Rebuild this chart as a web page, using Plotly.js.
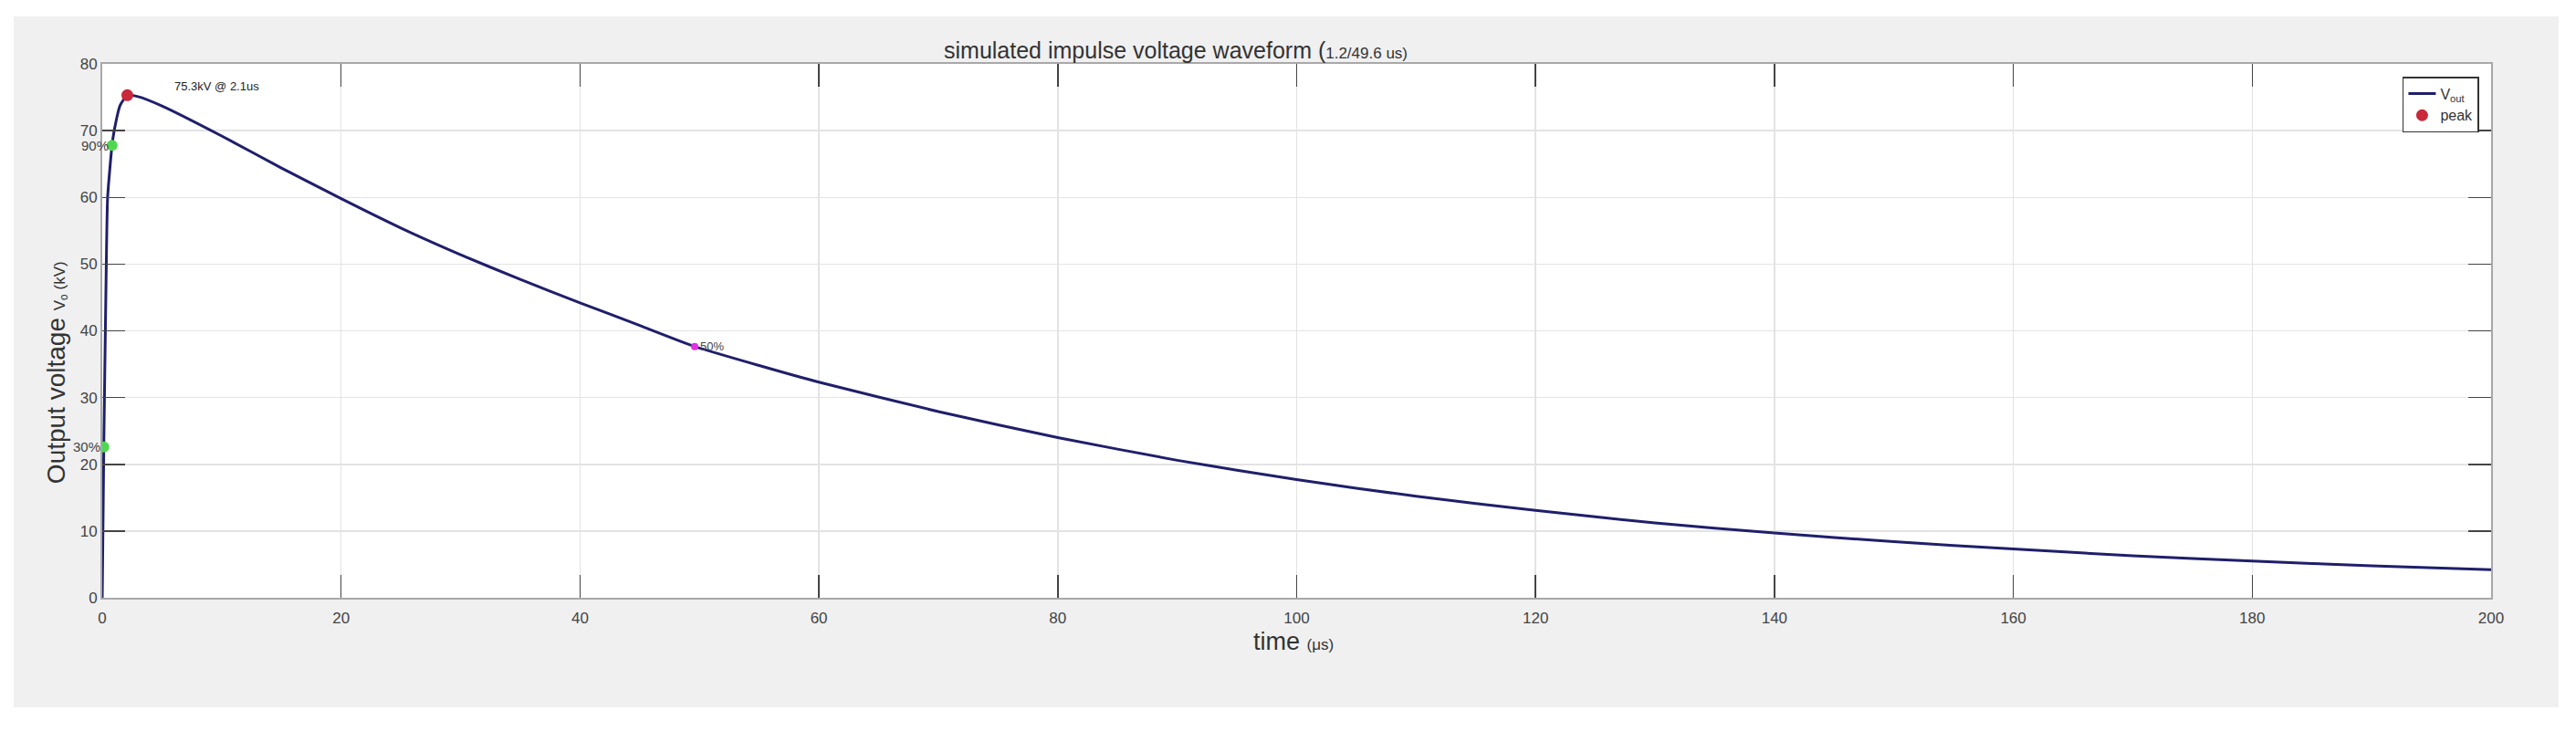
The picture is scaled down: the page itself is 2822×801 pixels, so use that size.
<!DOCTYPE html>
<html>
<head>
<meta charset="utf-8">
<script src="https://cdn.plot.ly/plotly-3.0.1.min.js"></script>
<style>
  html, body { margin: 0; padding: 0; background: #ffffff; width: 2822px; height: 801px; overflow: hidden; }
  #chart { position: absolute; left: 15px; top: 18px; width: 2788px; height: 757px; }
</style>
</head>
<body>
<div id="chart"></div>
<script>
// ---- data ----
const timeUs = [0, 0.13, 0.3, 0.45, 0.82, 1.0, 1.5, 2.1, 3, 5, 10, 15, 20, 25, 30, 35, 40, 45, 49.6, 55, 60, 70, 80, 90, 100, 110, 120, 130, 140, 150, 160, 170, 180, 190, 200];
const vOutKv = [0, 22.6, 45, 60, 67.8, 70, 73.8, 75.3, 75.1, 73.7, 69.2, 64.4, 59.8, 55.4, 51.4, 47.7, 44.2, 40.8, 37.65, 34.8, 32.3, 27.9, 24.0, 20.6, 17.7, 15.2, 13.1, 11.2, 9.7, 8.4, 7.3, 6.3, 5.5, 4.8, 4.2];

const peakTime = [2.1];
const peakKv = [75.3];
const peakLabel = '75.3kV @ 2.1us';

const frontLabels = ['30%', '90%'];
const frontTimes = [0.13, 0.82];
const frontKv = [22.6, 67.8];

const tailLabels = ['50%'];
const tailTimes = [49.6];
const tailKv = [37.65];

const xTickVals = [0, 20, 40, 60, 80, 100, 120, 140, 160, 180, 200];
const yTickVals = [0, 10, 20, 30, 40, 50, 60, 70, 80];

const FONT = 'Liberation Sans, Arial, Helvetica, sans-serif';

const traces = [
  {
    x: timeUs, y: vOutKv, type: 'scatter', mode: 'lines',
    name: 'V<sub>out</sub>',
    line: { color: '#1f1f6b', width: 3, shape: 'spline', smoothing: 0.5 }
  },
  {
    x: peakTime, y: peakKv, type: 'scatter', mode: 'markers',
    name: 'peak',
    marker: { color: '#c8283a', size: 13 }
  },
  {
    x: frontTimes, y: frontKv, type: 'scatter', mode: 'markers',
    showlegend: false,
    marker: { color: '#4fd84f', size: 12 }
  },
  {
    x: tailTimes, y: tailKv, type: 'scatter', mode: 'markers',
    showlegend: false,
    marker: { color: '#e030e0', size: 8 }
  }
];

const annotations = [];
annotations.push({
  x: peakTime[0], y: peakKv[0], xref: 'x', yref: 'y',
  text: peakLabel, showarrow: false, xanchor: 'left', yanchor: 'middle',
  xshift: 50, yshift: 10, font: { family: FONT, size: 13, color: '#222' }
});
frontLabels.forEach((lab, i) => annotations.push({
  x: frontTimes[i], y: frontKv[i], xref: 'x', yref: 'y',
  text: lab, showarrow: false, xanchor: 'right', yanchor: 'middle',
  xshift: -2, font: { family: FONT, size: 15, color: '#444' }
}));
tailLabels.forEach((lab, i) => annotations.push({
  x: tailTimes[i], y: tailKv[i], xref: 'x', yref: 'y',
  text: lab, showarrow: false, xanchor: 'left', yanchor: 'middle',
  xshift: 4, font: { family: FONT, size: 13, color: '#444' }
}));
// axis titles (placed as annotations so they sit where the reference has them)
annotations.push({
  xref: 'paper', yref: 'paper', x: 0, y: 0.422, xshift: -50,
  xanchor: 'center', yanchor: 'middle', textangle: -90, showarrow: false,
  text: 'Output voltage <span style="font-size:17px">V<sub>o</sub> (kV)</span>',
  font: { family: FONT, size: 28, color: '#333' }
});
annotations.push({
  xref: 'paper', yref: 'paper', x: 0.4987, y: 0, yshift: -48,
  xanchor: 'center', yanchor: 'middle', showarrow: false,
  text: 'time <span style="font-size:17px">(μs)</span>',
  font: { family: FONT, size: 27, color: '#333' }
});

const axisCommon = {
  showgrid: true, gridcolor: '#e3e3e3', gridwidth: 1.5,
  showline: true, linecolor: '#a8a8a8', linewidth: 2, mirror: 'ticks',
  ticks: 'inside', ticklen: 25, tickwidth: 1.5, tickcolor: '#444',
  zeroline: false,
  tickfont: { family: FONT, size: 17, color: '#444' }
};

const layout = {
  width: 2788, height: 757,
  paper_bgcolor: '#f0f0f0', plot_bgcolor: '#ffffff',
  margin: { l: 97, r: 74, t: 52, b: 120 },
  font: { family: FONT, color: '#333' },
  title: {
    text: 'simulated impulse voltage waveform (<span style="font-size:17px">1.2/49.6 us)</span>',
    font: { family: FONT, size: 25, color: '#333' },
    xref: 'container', x: 0.3655, xanchor: 'left',
    yref: 'container', y: 0.951, yanchor: 'middle'
  },
  xaxis: Object.assign({}, axisCommon, {
    range: [0, 200], tickvals: xTickVals, ticktext: xTickVals.map(String),
    ticklabelstandoff: 6
  }),
  yaxis: Object.assign({}, axisCommon, {
    range: [0, 80], tickvals: yTickVals, ticktext: yTickVals.map(String)
  }),
  legend: {
    x: 0.995, xanchor: 'right', y: 0.976, yanchor: 'top',
    bgcolor: '#ffffff', bordercolor: '#333', borderwidth: 1.5,
    font: { family: FONT, size: 16, color: '#333' }
  },
  annotations: annotations,
  showlegend: true
};

Plotly.newPlot('chart', traces, layout, { displayModeBar: false, staticPlot: true });
</script>
</body>
</html>
